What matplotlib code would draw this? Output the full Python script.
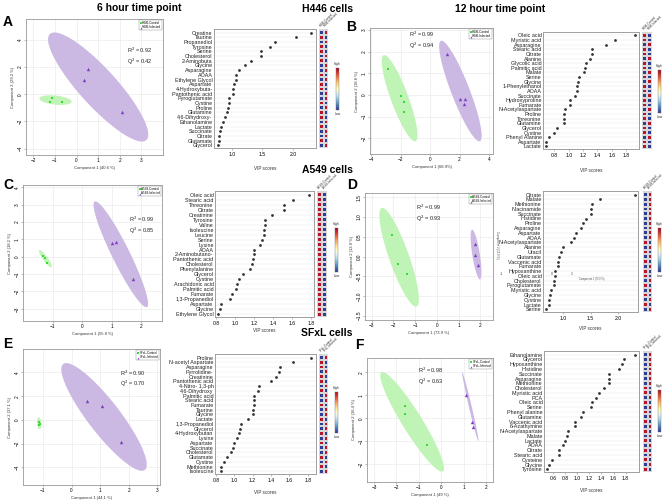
import matplotlib.pyplot as plt
import numpy as np
from matplotlib.colors import ListedColormap

plt.rcParams['font.family'] = ['Liberation Sans', 'DejaVu Sans']

W, H = 669, 500
fig = plt.figure(figsize=(W / 100, H / 100), dpi=100)


def box(l, t, r, b):
    # axes from pixel edges of the reference
    return fig.add_axes([l / W, 1 - b / H, (r - l) / W, (b - t) / H])


# ---------------- score plot data ----------------
# ellipses: major-axis end points (x1, y1, x2, y2) and minor/major ratio
a_ctrl_x = [-1.15, -1.23, -0.68]
a_ctrl_y = [-0.27, -0.54, -0.54]
a_inf_x = [0.54, 0.35, 2.08]
a_inf_y = [1.84, 1.06, -1.28]
a_ctrl_ell = [-1.72, -0.30, -0.23, -0.55, 0.28]
a_inf_ell = [-1.23, 4.45, 3.23, -3.37, 0.26]

b_ctrl_x = [-2.83, -1.98, -1.75, -1.75]
b_ctrl_y = [1.19, -0.05, -0.33, -0.79]
b_inf_x = [1.13, 2.03, 2.40, 2.31]
b_inf_y = [1.89, -0.17, -0.17, -0.40]
b_ctrl_ell = [-3.14, 1.84, -0.98, -2.14, 0.19]
b_inf_ell = [0.74, 2.51, 3.38, -2.14, 0.17]

c_ctrl_x = [-1.33, -1.27, -1.17]
c_ctrl_y = [0.04, -0.10, -0.35]
c_inf_x = [1.00, 1.14, 1.73]
c_inf_y = [0.81, 0.86, -1.30]
c_ctrl_ell = [-1.45, 0.38, -1.03, -0.61, 0.22]
c_inf_ell = [0.43, 3.18, 2.20, -2.90, 0.15]

d_ctrl_x = [-2.08, -1.81, -1.39]
d_ctrl_y = [0.55, -0.19, -0.44]
d_inf_x = [1.76, 1.76, 1.88]
d_inf_y = [0.31, 0.03, -0.22]
d_ctrl_ell = [-2.54, 1.23, -0.94, -1.27, 0.19]
d_inf_ell = [1.62, 0.68, 1.98, -0.58, 0.15]

e_ctrl_x = [-1.15, -1.14, -1.12]
e_ctrl_y = [-0.20, -0.42, -0.30]
e_inf_x = [0.55, 1.08, 1.75]
e_inf_y = [1.60, 1.18, -1.83]
e_ctrl_ell = [-1.15, 0.22, -1.12, -0.79, 0.35]
e_inf_ell = [-0.29, 4.72, 2.57, -4.21, 0.24]

f_ctrl_x = [-1.61, -1.64, -0.63]
f_ctrl_y = [0.54, 0.18, -1.14]
f_inf_x = [1.11, 1.35, 1.41]
f_inf_y = [1.02, -0.15, -0.39]
f_ctrl_ell = [-2.67, 2.01, 0.07, -2.31, 0.17]
f_inf_ell = [0.93, 2.01, 1.65, -0.99, 0.04]

# ---------------- VIP data ----------------
a_names = ["Creatine", "Taurine", "Propanediol", "Tyrosine", "Serine", "Cholesterol",
           "2-Aminobuta", "Glycine", "Asparagine", "AOAA", "Ethylene Glycol", "Aspartate",
           "4-Hydroxybuta-", "Pantothenic acid", "Pyroglutamate", "Cystine", "Proline",
           "Glutamine", "4,6-Dihydroxy-", "Ethanolamine", "Lactate", "Succinate", "Citrate",
           "Glutamate", "Glycerol"]
a_vip = [2.30, 2.05, 1.71, 1.62, 1.48, 1.48, 1.32, 1.22, 1.11, 1.07, 1.07, 1.04, 1.02,
         1.02, 0.95, 0.95, 0.94, 0.92, 0.88, 0.85, 0.82, 0.80, 0.79, 0.79, 0.77]

b_names = ["Oleic acid", "Myristic acid", "Asparagine", "Stearic acid", "Citrate", "Alanine",
           "Glycolic acid", "Palmitic acid", "Malate", "Serine", "Glycine", "1-Phenylethanol",
           "AOAA", "Succinate", "Hydroxyproline", "Fumarate", "N-Acetylaspartate", "Proline",
           "Threonine", "Glutamine", "Glycerol", "Cystine", "Phenyl Alanine", "Aspartate",
           "Lactate"]
b_vip = [1.93, 1.64, 1.52, 1.32, 1.32, 1.30, 1.24, 1.23, 1.21, 1.14, 1.13, 1.12, 1.11,
         1.09, 1.02, 1.01, 0.95, 0.94, 0.94, 0.93, 0.83, 0.79, 0.73, 0.68, 0.68]

c_names = ["Oleic acid", "Stearic acid", "Threonine", "Citrate", "Creatinine", "Tyrosine",
           "Valine", "Isoleucine", "Leucine", "Serine", "Lysine", "AOAA", "2-Aminobutano-",
           "Pantothenic acid", "Cholesterol", "Phenylalanine", "Glycerol", "Cystine",
           "Arachidonic acid", "Palmitic acid", "Fumarate", "1,3-Propanediol", "Aspartate",
           "Glycine", "Ethylene Glycol"]
c_vip = [1.78, 1.61, 1.52, 1.52, 1.39, 1.32, 1.31, 1.30, 1.30, 1.28, 1.26, 1.20, 1.20,
         1.19, 1.18, 1.16, 1.08, 1.04, 1.02, 1.01, 0.97, 0.95, 0.85, 0.84, 0.82]

d_names = ["Citrate", "Malate", "Methionine", "Niacinamide", "Succinate", "Histidine",
           "Proline", "Asparagine", "Aspartate", "AOAA", "N-Acetylaspartate", "Alanine",
           "Uracil", "Glutamate", "Vaccenic acid", "Fumarate", "Hypoxanthine", "Oleic acid",
           "Cholesterol", "Pyroglutamate", "Myristic acid", "Glycine", "Cystine", "Lactate",
           "Serine"]
d_vip = [2.31, 1.67, 1.53, 1.51, 1.50, 1.42, 1.36, 1.32, 1.24, 1.21, 1.15, 1.00, 0.96,
         0.93, 0.91, 0.91, 0.86, 0.85, 0.84, 0.84, 0.78, 0.76, 0.75, 0.74, 0.70]

e_names = ["Proline", "N-acetyl Aspartate", "Asparagine", "Pyrrolidine-", "Creatinine",
           "Pantothenic acid", "4-Nitro- 1,3-ph", "4,6-Dihydroxy", "Palmitic acid",
           "Stearic acid", "Fumarate", "Taurine", "Glycine", "Lactate", "1,3-Propanediol",
           "Glycerol", "4-Hydroxybutan", "Lysine", "Aspartate", "Succinate", "Cholesterol",
           "Glutamate", "Cystine", "Methionine", "Isoleucine"]
e_vip = [1.84, 1.64, 1.50, 1.49, 1.45, 1.40, 1.27, 1.26, 1.22, 1.22, 1.21, 1.20, 1.20,
         1.15, 1.07, 1.06, 1.05, 1.03, 1.00, 0.99, 0.96, 0.92, 0.89, 0.86, 0.85]

f_names = ["Ethanolamine", "Glycerol", "Hypoxanthine", "Histidine", "Succinate", "Asparagine",
           "Methionine", "Cholesterol", "Myristic acid", "PCA", "Oleic acid", "Serine",
           "Phenyl alanine", "Glutamine", "Vaccenic acid", "6-Azathymine", "N-Acetylaspartate",
           "Malate", "Lactate", "AOAA", "Citrate", "Stearic acid", "Cysteine", "Glycine",
           "Tyrosine"]
f_vip = [1.96, 1.78, 1.74, 1.69, 1.52, 1.52, 1.52, 1.44, 1.36, 1.31, 1.25, 1.23, 1.10,
         1.06, 0.96, 0.96, 0.84, 0.83, 0.79, 0.77, 0.70, 0.69, 0.58, 0.53, 0.50]

# heatmap: 1 = control high, 0 = control low
a_heat = [0, 1, 0, 1, 1, 0, 1, 0, 0, 1, 0, 1, 1, 0, 0, 1, 0, 1, 1, 0, 1, 0, 0, 1, 0]
b_heat = [1, 1, 0, 1, 1, 0, 1, 1, 0, 1, 0, 1, 1, 0, 1, 1, 0, 1, 1, 0, 1, 1, 0, 1, 1]
c_heat = [1, 1, 1, 1, 1, 1, 1, 1, 1, 1, 1, 1, 1, 1, 1, 1, 1, 1, 1, 1, 1, 1, 1, 1, 1]
d_heat = [0, 0, 0, 0, 0, 0, 0, 0, 0, 0, 1, 0, 1, 0, 1, 0, 1, 1, 0, 1, 0, 1, 0, 1, 0]
e_heat = [0, 1, 1, 0, 1, 1, 0, 1, 0, 0, 1, 0, 0, 1, 0, 0, 1, 0, 1, 0, 0, 1, 0, 1, 0]
f_heat = [0, 0, 0, 0, 0, 0, 0, 1, 1, 0, 1, 0, 1, 0, 1, 0, 1, 0, 1, 0, 1, 0, 1, 0, 1]

GREEN = '#33dd33'
PURPLE = '#7b3fc4'
GREEN_E = '#c0f4b6'
PURPLE_E = '#cbb9e3'


def ellipse(ax, e, color):
    x1, y1, x2, y2, ratio = e
    p1 = ax.transData.transform((x1, y1))
    p2 = ax.transData.transform((x2, y2))
    c = (p1 + p2) / 2
    u = (p1 - p2) / 2
    v = np.array([-u[1], u[0]]) * ratio
    t = np.linspace(0, 2 * np.pi, 120)
    pts = c + np.outer(np.cos(t), u) + np.outer(np.sin(t), v)
    d = ax.transData.inverted().transform(pts)
    ax.fill(d[:, 0], d[:, 1], color=color, lw=0, zorder=1)


def score(pos, xlim, ylim, xt, yt, cx, cy, ix, iy, ce, ie, lbl, xl, yl, r2, q2, txy):
    ax = box(*pos)
    ax.set_xlim(xlim)
    ax.set_ylim(ylim)
    ax.set_xticks(xt)
    ax.set_yticks(yt)
    ax.grid(color='#e6e6e6', lw=0.4)
    ax.set_axisbelow(True)
    ellipse(ax, ce, GREEN_E)
    ellipse(ax, ie, PURPLE_E)
    ax.scatter(cx, cy, s=4, marker='s', color=GREEN, lw=0, zorder=3, label=lbl + '-Control')
    ax.scatter(ix, iy, s=6, marker='^', color=PURPLE, lw=0, zorder=3, label=lbl + '-Infected')
    ax.tick_params(labelsize=3.4, length=1.5, width=0.4, pad=1, color='#888')
    plt.setp(ax.get_yticklabels(), rotation=90, va='center')
    ax.set_xlabel(xl, fontsize=3, labelpad=1.5, color='#333')
    ax.set_ylabel(yl, fontsize=3, labelpad=1.5, color='#333')
    for s in ax.spines.values():
        s.set_color('#999999')
        s.set_linewidth(0.6)
    ax.text(txy[0], txy[1], f'R$^2$ = {r2}\nQ$^2$ = {q2}', fontsize=4, va='top',
            ha='left', linespacing=1.2, color='#222')
    leg = ax.legend(loc='upper right', fontsize=2.2, markerscale=0.6, handletextpad=0.2,
                    borderpad=0.3, labelspacing=0.2, fancybox=False, framealpha=1,
                    handlelength=0.6, borderaxespad=0.3)
    leg.get_frame().set_linewidth(0.3)
    leg.get_frame().set_edgecolor('#888')
    return ax


def vip(pos, names, vals, xlim, ticks, heat, hx, cb, lbl, xlab_y):
    ax = box(*pos)
    n = len(names)
    y = np.arange(n)
    for yy in y:
        ax.axhline(yy, color='#e8e8e8', lw=0.35, zorder=0)
    ax.scatter(vals, y, s=4, color='#333333', lw=0, zorder=3)
    ylim = (n - 0.45, -0.75)
    ax.set_ylim(ylim)
    ax.set_xlim(xlim)
    ax.set_yticks(y)
    ax.set_yticklabels(names, fontsize=3.9, color='#222')
    ax.tick_params(axis='y', length=0, pad=1)
    ax.set_xticks(ticks)
    ax.set_xticklabels([f'{t:.1f}' for t in ticks])
    ax.tick_params(axis='x', labelsize=3.7, length=1.5, width=0.4, pad=1.5, color='#888')
    for s in ax.spines.values():
        s.set_color('#a0a0a0')
        s.set_linewidth(0.7)
    fig.text((pos[0] + pos[2]) / 2 / W, 1 - xlab_y / H, 'VIP scores', fontsize=3.3,
             ha='center', va='center', color='#333')

    # two-column heatmap, control / infected
    hm = box(hx[0], pos[1], hx[1], pos[3])
    z = np.array([[h, 1 - h] for h in heat])
    hm.pcolormesh([0, 1, 2], np.arange(n + 1) - 0.5, z,
                  cmap=ListedColormap(['#2e3d96', '#b8142c']),
                  edgecolors='#d8d8d8', linewidth=0.25)
    hm.set_ylim(ylim)
    hm.set_xlim(0, 2)
    hm.axis('off')
    for i, s in enumerate(['-Control', '-Infected']):
        hm.text(0.5 + i, -1.0, lbl + s, fontsize=2.2, rotation=45, ha='left', va='bottom',
                color='#333', rotation_mode='anchor')

    # colour key
    ck = box(cb[0], cb[1], cb[0] + 3, cb[2])
    ck.imshow(np.linspace(1, 0, 64)[:, None], aspect='auto', cmap='RdYlBu_r')
    ck.set_xticks([])
    ck.set_yticks([])
    for s in ck.spines.values():
        s.set_linewidth(0.3)
        s.set_color('#777')
    fig.text((cb[0] + 1.5) / W, 1 - (cb[1] - 4) / H, 'High', fontsize=2.4, ha='center',
             va='center', color='#333')
    fig.text((cb[0] + 1.5) / W, 1 - (cb[2] + 4) / H, 'Low', fontsize=2.4, ha='center',
             va='center', color='#333')
    return ax


# ---------------- panels ----------------
score((26, 19, 163, 155), (-2.34, 4.0), (-4.47, 5.55), [-2, -1, 0, 1, 2, 3], [-4, -2, 0, 2, 4],
      a_ctrl_x, a_ctrl_y, a_inf_x, a_inf_y, a_ctrl_ell, a_inf_ell, 'H446',
      'Component 1 (40.6 %)', 'Component 2 (29.2 %)', '0.92', '0.42', (2.35, 3.55))
vip((214, 29, 316, 148), a_names, a_vip, (0.705, 2.38), [1.0, 1.5, 2.0], a_heat,
    (319, 328), (336, 68, 110), 'H446', 168)

score((370, 28, 493, 154), (-4.07, 4.27), (-2.73, 3.1), [-4, -2, 0, 2, 4], [-2, -1, 0, 1, 2, 3],
      b_ctrl_x, b_ctrl_y, b_inf_x, b_inf_y, b_ctrl_ell, b_inf_ell, 'H446',
      'Component 1 (68.9%)', 'Component 2 (18.8 %)', '0.99', '0.94', (-1.45, 3.0))
vip((543, 32, 639, 149), b_names, b_vip, (0.64, 1.98), [0.8, 1.0, 1.2, 1.4, 1.6, 1.8], b_heat,
    (642, 652), (658, 70, 113), 'H446', 170)

score((23, 185, 162, 321), (-2.0, 2.71), (-3.7, 4.13), [-1, 0, 1, 2], [-3, -2, -1, 0, 1, 2, 3, 4],
      c_ctrl_x, c_ctrl_y, c_inf_x, c_inf_y, c_ctrl_ell, c_inf_ell, 'A549',
      'Component 1 (55.8 %)', 'Component 2 (18.2 %)', '0.99', '0.85', (1.6, 2.4))
vip((215, 191, 314, 317), c_names, c_vip, (0.79, 1.83), [0.8, 1.0, 1.2, 1.4, 1.6, 1.8], c_heat,
    (317, 327), (335, 228, 272), 'A549', 331)

score((365, 193, 493, 320), (-3.31, 2.58), (-1.61, 1.61), [-3, -2, -1, 0, 1, 2],
      [-1.5, -1.0, -0.5, 0.0, 0.5, 1.0, 1.5],
      d_ctrl_x, d_ctrl_y, d_inf_x, d_inf_y, d_ctrl_ell, d_inf_ell, 'A549',
      'Component 1 (73.9 %)', 'Component 2 (13.9 %)', '0.99', '0.93', (-0.98, 1.36))
vip((543, 191, 638, 312), d_names, d_vip, (0.64, 2.36), [1.0, 1.5, 2.0], d_heat,
    (643, 652), (658, 228, 272), 'A549', 328)

score((23, 349, 160, 485), (-1.7, 3.1), (-5.48, 5.98), [-1, 0, 1, 2, 3], [-4, -2, 0, 2, 4],
      e_ctrl_x, e_ctrl_y, e_inf_x, e_inf_y, e_ctrl_ell, e_inf_ell, 'SFxL',
      'Component 1 (44.1 %)', 'Component 2 (37.1 %)', '0.90', '0.70', (1.7, 4.35))
vip((215, 354, 316, 474), e_names, e_vip, (0.79, 1.89), [0.8, 1.0, 1.2, 1.4, 1.6, 1.8], e_heat,
    (319, 328), (335, 392, 433), 'SFxL', 493)

score((367, 358, 493, 482), (-3.31, 2.3), (-2.77, 2.63), [-3, -2, -1, 0, 1, 2], [-2, -1, 0, 1, 2],
      f_ctrl_x, f_ctrl_y, f_inf_x, f_inf_y, f_ctrl_ell, f_inf_ell, 'SFxL',
      'Component 1 (49 %)', 'Component 2 (16.4 %)', '0.98', '0.63', (-1.05, 2.3))
vip((544, 351, 639, 472), f_names, f_vip, (0.45, 2.02), [0.6, 0.8, 1.0, 1.2, 1.4, 1.6, 1.8],
    f_heat, (643, 652), (658, 390, 432), 'SFxL', 490)

# stray overlay text left over in the source figure (panel D)
fig.text(497 / W, 1 - 245 / H, 'Component 2 (13.9 %)', fontsize=2, rotation=270,
         ha='center', va='center', color='#444')
for txt, x in [('-1', 501), ('0', 552), ('1', 572)]:
    fig.text(x / W, 1 - 274 / H, txt, fontsize=2.6, ha='center', va='center', color='#444')
fig.text(592 / W, 1 - 279 / H, 'Component 1 (73.9 %)', fontsize=1.8, ha='center',
         va='center', color='#444')

# ---------------- headings ----------------
for txt, x, y in [('6 hour time point', 139, 8), ('H446 cells', 327, 9),
                  ('12 hour time point', 500, 9), ('A549 cells', 327, 170),
                  ('SFxL cells', 327, 333)]:
    fig.text(x / W, 1 - y / H, txt, fontsize=7.5, fontweight='bold', ha='center', va='center')

for txt, x, y in [('A', 8, 22), ('B', 351, 27), ('C', 8, 185), ('D', 352, 185),
                  ('E', 8, 344), ('F', 359, 345)]:
    fig.text(x / W, 1 - y / H, txt, fontsize=10, fontweight='bold', ha='center', va='center')

fig.savefig('out.png', dpi=100)
